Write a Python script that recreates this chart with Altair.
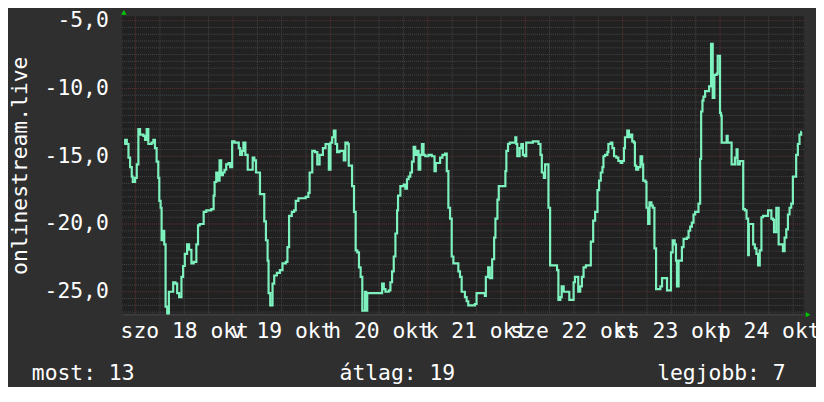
import json
import altair as alt
import pandas as pd

# ---- data: (hours since Sat 18 Oct 00:00, value) ----
trace_day1 = [
    (-2.80, -14.1), (-2.56, -13.8), (-2.15, -14.1), (-1.74, -15.1), (-1.34, -15.8),
    (-0.93, -16.5), (-0.68, -16.9), (-0.11, -16.6), (0.30, -15.6), (0.70, -13.0),
    (1.11, -13.4), (1.93, -13.5), (2.34, -13.8), (2.74, -13.0), (3.15, -14.1),
    (3.97, -14.0), (4.38, -13.8), (4.78, -14.4), (5.19, -15.4), (5.60, -16.6),
    (5.85, -18.3), (6.17, -18.8), (6.42, -21.2), (6.82, -20.5), (7.07, -21.5),
    (7.40, -26.1), (7.80, -26.6), (8.21, -25.0), (9.27, -24.3), (9.84, -24.4),
    (10.25, -25.1), (10.74, -25.4), (11.31, -23.9), (11.72, -23.1), (12.13, -22.2),
    (12.70, -21.5), (13.19, -21.9), (13.76, -22.9), (14.33, -22.8), (14.98, -21.5),
    (15.39, -20.1), (15.80, -20.0), (16.78, -19.1), (17.43, -19.0), (18.66, -18.9),
    (19.23, -17.9), (19.47, -16.9), (19.88, -16.2), (20.29, -16.8), (20.70, -15.3),
    (21.10, -16.4), (21.51, -16.2), (21.92, -16.0), (22.33, -15.6), (22.90, -15.5),
    (23.31, -15.8), (23.80, -13.9), (24.37, -14.0), (25.43, -14.4), (25.76, -14.9),
    (26.25, -14.6), (26.57, -14.0), (27.06, -14.9), (27.63, -16.0), (28.86, -15.1),
    (29.26, -15.3), (29.67, -16.2), (30.65, -17.8), (31.71, -19.8), (32.12, -21.2),
    (32.53, -22.7), (32.77, -25.1), (33.18, -26.0), (33.75, -24.4), (34.16, -23.8),
    (34.81, -23.6), (35.55, -23.4), (36.20, -22.9), (37.02, -22.8), (37.42, -21.7),
    (37.83, -19.4), (38.49, -19.1), (39.06, -19.0), (39.46, -18.3), (40.12, -18.1),
    (41.91, -18.0), (42.57, -17.7), (42.89, -16.2), (43.54, -14.6), (44.20, -14.7),
    (44.77, -15.6), (45.34, -14.9), (46.16, -14.4), (46.81, -14.1), (47.62, -16.0),
    (48.03, -14.0), (48.44, -13.6), (48.85, -13.1), (49.26, -14.1), (49.66, -14.7),
    (50.24, -14.6), (51.30, -15.3), (51.70, -14.0), (52.28, -14.1), (52.52, -15.7),
    (53.34, -17.2), (53.82, -19.1), (54.23, -21.95),
]

trace_day2 = [
    (54.63, -22.1), (55.04, -23.2), (55.45, -23.9), (55.86, -26.4), (56.51, -25.0),
    (56.84, -26.4), (57.08, -25.1), (60.75, -24.4), (61.16, -24.8), (61.57, -25.0),
    (62.39, -24.9), (62.79, -24.3), (63.20, -23.5), (63.61, -22.4), (64.02, -20.7),
    (64.43, -19.0), (64.67, -17.9), (65.24, -17.2), (66.06, -17.1), (66.47, -17.4),
    (66.87, -16.7), (67.28, -16.5), (67.69, -16.2), (68.10, -15.4), (68.51, -14.3),
    (68.91, -14.9), (69.32, -14.6), (69.73, -16.0), (70.14, -14.9), (70.55, -14.1),
    (70.95, -14.9), (71.36, -15.0), (72.18, -14.9), (72.99, -15.0), (73.65, -16.1),
    (73.97, -15.5), (75.03, -15.1), (75.61, -14.9), (76.26, -14.8), (76.67, -16.1),
    (77.07, -18.8), (77.48, -19.6), (77.89, -22.4), (78.30, -22.9), (79.52, -23.5),
    (79.93, -23.9), (80.34, -25.0), (81.15, -25.4), (81.56, -25.7), (81.97, -26.0),
    (83.60, -25.9), (84.01, -25.1), (86.05, -25.3), (86.30, -23.9), (86.87, -23.2),
    (87.27, -24.0), (87.85, -22.6), (88.34, -21.0), (88.66, -19.6), (89.15, -18.2),
    (89.48, -17.2), (91.11, -16.1), (91.35, -14.6), (91.76, -14.1), (92.17, -14.0),
    (93.56, -13.6), (93.80, -14.1), (94.05, -15.0), (94.62, -14.4), (95.03, -14.1),
    (95.43, -14.9), (95.84, -15.0), (96.25, -14.0), (97.88, -13.9), (99.27, -14.1),
    (99.76, -14.9), (100.09, -16.2), (100.58, -16.6), (100.90, -15.6), (101.72, -18.8),
    (102.13, -23.05), (103.84, -23.4), (104.17, -25.6), (104.65, -25.4), (104.98, -24.6),
    (105.47, -25.0), (106.86, -25.6), (107.92, -24.3), (108.25, -23.9), (109.06, -25.0),
    (109.55, -24.6), (109.96, -23.9), (110.37, -23.2), (110.94, -23.05),
]

trace_day3 = [
    (112.16, -21.3), (112.74, -19.75), (113.23, -19.1), (113.80, -17.5), (114.20, -16.8),
    (114.61, -16.2), (115.02, -15.8), (115.27, -15.0), (115.67, -14.9), (116.24, -14.7),
    (116.49, -14.1), (117.06, -14.0), (117.47, -14.4), (117.88, -15.0), (118.45, -15.1),
    (118.94, -15.35), (119.51, -15.5), (119.92, -15.35), (120.32, -14.4), (120.57, -13.6),
    (121.14, -13.1), (121.55, -13.6), (121.96, -13.4), (122.36, -13.9), (122.77, -14.0),
    (123.02, -15.7), (123.34, -16.0), (123.83, -15.8), (124.40, -15.0), (124.81, -15.6),
    (125.06, -16.8), (125.63, -16.9), (125.87, -18.8), (126.28, -20.0), (126.61, -18.4),
    (127.10, -18.65), (127.42, -18.8), (127.83, -21.8), (128.24, -24.8), (129.30, -24.6),
    (129.71, -24.0), (130.93, -24.9), (131.91, -22.1), (132.32, -21.2), (132.81, -21.5),
    (133.14, -22.7), (133.38, -24.6), (133.79, -22.7), (134.60, -21.7), (135.01, -21.1),
    (135.83, -21.0), (136.24, -20.5), (136.64, -20.2), (137.05, -19.9), (137.46, -19.3),
    (137.87, -19.1), (138.68, -18.5), (139.09, -15.2), (139.34, -11.7), (139.66, -10.9),
    (139.91, -10.6), (140.32, -10.2), (141.30, -9.85), (141.78, -6.7), (142.19, -10.7),
    (142.60, -9.0), (143.17, -8.9), (143.42, -7.6), (143.99, -11.8), (144.23, -12.0),
    (144.40, -14.0), (145.62, -13.5), (145.87, -14.0), (146.84, -15.6), (147.66, -15.1),
    (148.07, -14.5), (148.31, -15.6), (148.88, -15.35), (149.70, -18.9), (150.11, -19.0),
    (150.52, -19.6), (150.92, -22.3), (151.09, -20.0), (152.15, -21.5), (152.56, -21.8),
    (152.96, -22.2), (153.37, -23.05), (153.78, -21.95), (154.19, -19.5), (154.60, -19.4),
    (155.82, -19.0), (156.64, -19.6), (157.04, -19.7), (157.29, -20.6), (157.86, -18.8),
    (158.43, -21.5), (159.49, -22.0), (159.90, -21.0), (160.31, -20.4), (160.72, -19.3),
    (161.12, -18.8), (161.53, -18.5), (161.94, -16.5), (162.75, -14.9), (163.16, -14.1),
    (163.57, -13.4), (163.98, -13.2), (164.10, -13.2),
]

day_labels = ["szo 18 okt", "v 19 okt", "h 20 okt", "k 21 okt", "sze 22 okt", "cs 23 okt", "p 24 okt"]
label_hours = [12, 36, 60, 84, 108, 132, 156]
y_ticks = [-25, -20, -15, -10, -5]
legend_items = ["most: 13", "átlag: 19", "legjobb: 7"]
series_name = "onlinestream.live"

x_domain = [-3.3, 164.7]
y_domain = [-26.65, -4.68]

# ---- tables ----
points = trace_day1 + trace_day2 + trace_day3
df = pd.DataFrame(points, columns=["h", "v"])

minor_h = [k / 2 for k in range(-53, -9) if k % 10 != 0]
major_h = [float(v) for v in y_ticks]
minor_v = [h for h in range(6, 165, 6) if h % 24 != 0]
major_v = [h for h in range(0, 165, 24)]

FONT = "DejaVu Sans Mono"
FS = 21.5
BG = "#2f2f2f"
CANVAS = "#212121"
LINE = "#7ef2be"
MINOR = "#484848"
MAJOR = "#623232"

xs = alt.Scale(domain=x_domain, nice=False, zero=False)
ys = alt.Scale(domain=y_domain, nice=False, zero=False)

x_label_expr = f"{json.dumps(day_labels)}[round((datum.value - 12) / 24)]"
x_axis = alt.Axis(
    values=label_hours, labelExpr=x_label_expr, title=None,
    grid=False, ticks=False, tickSize=0, labelPadding=24,
    labelBaseline="alphabetic", labelAlign="center",
    labelOverlap=False, labelFlush=False, labelBound=False,
    domain=True, domainColor="#3e3e3e", domainWidth=2,
)
y_axis = alt.Axis(
    values=y_ticks, labelExpr="'-' + format(abs(datum.value), 'd') + ',0'",
    title=series_name, titleAngle=270, titleX=-96, titleY=150,
    titleAlign="center", titleBaseline="alphabetic",
    titleFont=FONT, titleFontSize=FS, titleFontWeight="normal", titleColor="#ffffff",
    grid=False, ticks=False, tickSize=0, labelPadding=14,
    labelBaseline="middle", labelOverlap=False, labelFlush=False, labelBound=False,
    domain=False,
)

def hrule(vals, color):
    return alt.Chart(pd.DataFrame({"v": vals})).mark_rule(
        color=color, strokeWidth=1, strokeDash=[1, 1]
    ).encode(y=alt.Y("v:Q", scale=ys, axis=y_axis))

def vrule(vals, color):
    return alt.Chart(pd.DataFrame({"h": vals})).mark_rule(
        color=color, strokeWidth=1, strokeDash=[1, 1]
    ).encode(x=alt.X("h:Q", scale=xs, axis=x_axis))

line = alt.Chart(df).mark_line(
    color=LINE, strokeWidth=2.2, interpolate="step-after"
).encode(
    x=alt.X("h:Q", scale=xs, axis=x_axis),
    y=alt.Y("v:Q", scale=ys, axis=y_axis),
)

one = alt.Data(values=[{}])
arrow_up = alt.Chart(one).mark_point(
    shape="triangle-up", filled=True, size=30, color="#00c800", opacity=1
).encode(x=alt.value(1.7), y=alt.value(-4))
arrow_right = alt.Chart(one).mark_point(
    shape="triangle-right", filled=True, size=30, color="#00c800", opacity=1
).encode(x=alt.value(691), y=alt.value(300.5))

legend_x = [-91, 219, 539]
legend_layers = [
    alt.Chart(one).mark_text(
        text=txt, font=FONT, fontSize=FS, color="#ffffff",
        align="left", baseline="alphabetic",
    ).encode(x=alt.value(px), y=alt.value(366))
    for txt, px in zip(legend_items, legend_x)
]

chart = alt.layer(
    hrule(minor_h, MINOR), vrule(minor_v, MINOR),
    hrule(major_h, MAJOR), vrule(major_v, MAJOR),
    line, arrow_up, arrow_right, *legend_layers,
).properties(
    width=687, height=300,
    autosize=alt.AutoSizeParams(type="none"),
    padding={"left": 115, "top": 7, "right": 12, "bottom": 72},
    background=BG,
).configure_view(
    fill=CANVAS, stroke=None,
).configure_axis(
    labelFont=FONT, labelFontSize=FS, labelColor="#ffffff",
)

chart.save("out.html", embed_options={"renderer": "svg", "actions": False})
